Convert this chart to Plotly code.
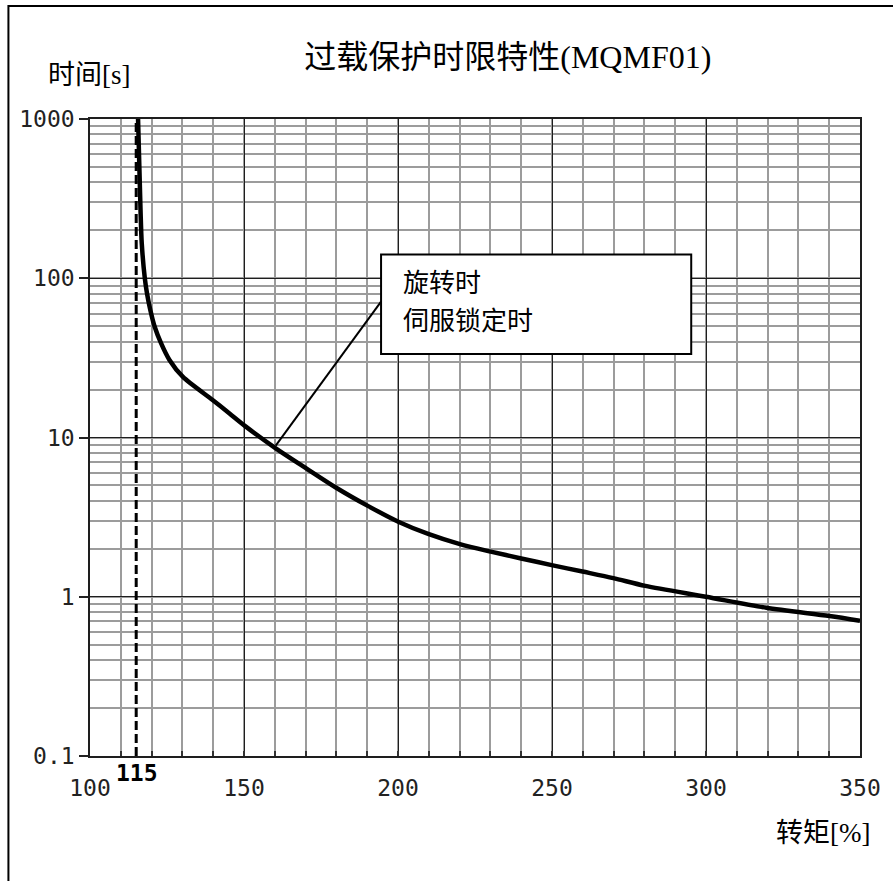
import plotly.graph_objects as go

# ---- data ----
torque_pct = [115.6, 116.4, 116.8, 117.8, 118.5, 119.6, 121.0, 123.1, 125.8, 130.1,
              139.8, 145.2, 150.6, 160.3, 170.2, 180.2, 190.2, 200.1, 209.8, 220.1,
              230.1, 240.0, 249.9, 259.9, 269.9, 280.3, 300.0, 319.6, 340.1, 350.0]
time_s = [1000, 270, 166, 100, 80.5, 63, 49.6, 39, 30.7, 24.1,
          17.2, 14.2, 11.7, 8.55, 6.4, 4.8, 3.72, 2.96, 2.48, 2.14,
          1.92, 1.74, 1.58, 1.44, 1.31, 1.17, 1.0, 0.853, 0.757, 0.707]

limit_x = [115, 115]
limit_y = [0.1, 1000]

x_ticks = [100, 150, 200, 250, 300, 350]
y_ticks = [0.1, 1, 10, 100, 1000]
y_tick_labels = ["0.1", "1", "10", "100", "1000"]

title_text = "过载保护时限特性(MQMF01)"
y_title = "时间[s]"
x_title = "转矩[%]"
box_lines = ["旋转时", "伺服锁定时"]
limit_label = "115"

W, H = 893, 881
L, R, T, B = 90, 29, 119, 125
pw, ph = W - L - R, H - T - B

def px2x(px):
    return (px - L) / pw

def py2y(py):
    return (H - B - py) / ph

serif = "Liberation Serif, Noto Sans CJK SC, serif"
mono = "DejaVu Sans Mono, monospace"
minor_grid = "#9c9c9c"
major_grid = "#1e1e1e"

fig = go.Figure()

fig.add_trace(go.Scatter(
    x=limit_x, y=limit_y, mode="lines",
    line=dict(color="black", width=3, dash="9px,4px"),
    showlegend=False, hoverinfo="skip"))

fig.add_trace(go.Scatter(
    x=torque_pct, y=time_s, mode="lines",
    line=dict(color="black", width=4.5, shape="spline", smoothing=0.8),
    showlegend=False))

fig.update_layout(
    width=W, height=H,
    margin=dict(l=L, r=R, t=T, b=B),
    paper_bgcolor="white", plot_bgcolor="white",
    showlegend=False,
    title=dict(text=title_text, x=px2x(510), xref="paper", xanchor="center",
               y=1 - 57 / H, yref="container", yanchor="middle",
               font=dict(family=serif, size=32, color="black")),
)

fig.update_xaxes(
    range=[100, 350], tickvals=x_ticks, ticktext=[str(v) for v in x_ticks],
    showgrid=True, gridcolor=major_grid, gridwidth=1.3,
    minor=dict(dtick=10, showgrid=True, gridcolor=minor_grid, gridwidth=1.5,
               ticks="inside", ticklen=5, tickcolor="#333", tickwidth=1.5),
    ticks="inside", ticklen=5, tickcolor="#333", tickwidth=1.5,
    showline=True, linecolor="#1e1e1e", linewidth=1.5, mirror=True,
    zeroline=False,
    tickfont=dict(family=mono, size=23, color="#222"),
    ticklabelstandoff=11,
)

fig.update_yaxes(
    type="log", range=[-1, 3], tickvals=y_ticks, ticktext=y_tick_labels,
    showgrid=True, gridcolor=major_grid, gridwidth=1.3,
    minor=dict(dtick="D1", showgrid=True, gridcolor=minor_grid, gridwidth=1.5),
    ticks="outside", ticklen=9, tickcolor="#222", tickwidth=1.5,
    showline=True, linecolor="#1e1e1e", linewidth=1.5, mirror=True,
    zeroline=False,
    tickfont=dict(family=mono, size=23, color="#222"),
)

# outer frame (extends beyond the right and bottom edges)
fig.add_shape(type="rect", xref="paper", yref="paper",
              x0=px2x(8), x1=px2x(905), y0=py2y(900), y1=py2y(6),
              line=dict(color="black", width=2), fillcolor="rgba(0,0,0,0)",
              layer="above")

# callout box and leader line
fig.add_shape(type="line", xref="x", yref="y",
              x0=160.3, y0=8.9, x1=194.5, y1=71.3,
              line=dict(color="black", width=2), layer="above")
fig.add_shape(type="rect", xref="x", yref="y",
              x0=194.5, x1=295.2, y0=33.4, y1=141,
              line=dict(color="black", width=2), fillcolor="white",
              layer="above")

fig.add_annotation(text=box_lines[0], xref="paper", yref="paper",
                   x=px2x(403), y=py2y(283), xanchor="left", yanchor="middle",
                   showarrow=False, font=dict(family=serif, size=26, color="black"))
fig.add_annotation(text=box_lines[1], xref="paper", yref="paper",
                   x=px2x(403), y=py2y(321), xanchor="left", yanchor="middle",
                   showarrow=False, font=dict(family=serif, size=26, color="black"))

# axis titles
fig.add_annotation(text=y_title, xref="paper", yref="paper",
                   x=px2x(46), y=py2y(75), xanchor="left", yanchor="middle",
                   showarrow=False, font=dict(family=serif, size=27, color="black"))
fig.add_annotation(text=x_title, xref="paper", yref="paper",
                   x=px2x(876), y=py2y(833), xanchor="right", yanchor="middle",
                   showarrow=False, font=dict(family=serif, size=27, color="black"))

# 115 marker label
fig.add_annotation(text="<b>" + limit_label + "</b>", xref="x", yref="paper",
                   x=limit_x[0] + 0.3, y=py2y(773), xanchor="center", yanchor="middle",
                   showarrow=False, font=dict(family=mono, size=23, color="black"))

fig.write_html("out.html",
               config={"displayModeBar": False},
               post_script="document.body.style.margin='0';document.body.style.padding='0';")
